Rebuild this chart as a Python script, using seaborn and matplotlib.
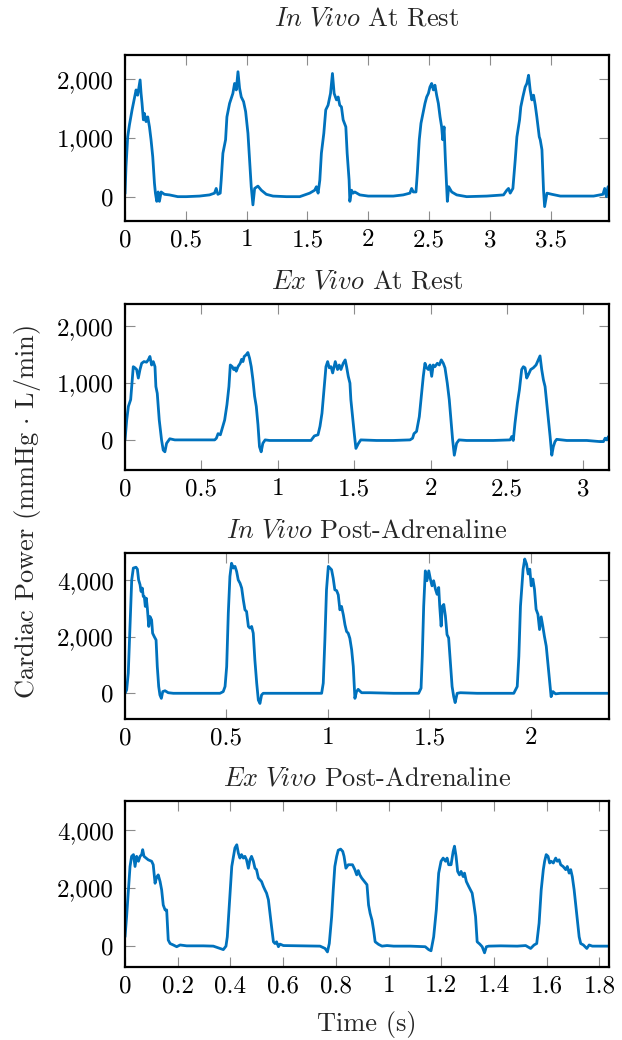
# Cardiac power traces, four panels
import numpy as np
from matplotlib import pyplot as plt
from matplotlib.ticker import FuncFormatter
import seaborn as sns

# Plot settings
sns.set_style("ticks")
plt.rc("font", family="serif", size=18)
plt.rcParams["font.serif"] = ["cmr10", "DejaVu Serif"]
plt.rc("mathtext", fontset="cm")
plt.rc("axes", linewidth=1.6, edgecolor="black", titlesize=19, labelsize=19, unicode_minus=False)
plt.rc("xtick", top=True, direction="in", color="#8c8c8c", labelcolor="black", labelsize=18)
plt.rc("ytick", right=True, direction="in", color="#8c8c8c", labelcolor="black", labelsize=18)
plt.rc("xtick.major", size=7, width=0.8, pad=6)
plt.rc("ytick.major", size=7, width=0.8, pad=8)

# Data (time in s, power in mmHg*L/min)
titles = [r"$\mathit{In\ Vivo}$ At Rest", r"$\mathit{Ex\ Vivo}$ At Rest",
          r"$\mathit{In\ Vivo}$ Post-Adrenaline", r"$\mathit{Ex\ Vivo}$ Post-Adrenaline"]

t_invivo_rest = [0, 0.008, 0.022, 0.036, 0.058, 0.077, 0.091, 0.104, 0.124, 0.132,
                 0.140, 0.151, 0.159, 0.173, 0.187, 0.201, 0.214, 0.228, 0.242, 0.250,
                 0.261, 0.272, 0.283, 0.297, 0.324, 0.365, 0.434, 0.503, 0.613, 0.695,
                 0.736, 0.750, 0.764, 0.783, 0.791, 0.805, 0.827, 0.838, 0.860, 0.887,
                 0.901, 0.915, 0.929, 0.942, 0.956, 0.975, 0.992, 1.011, 1.025, 1.038,
                 1.052, 1.066, 1.093, 1.121, 1.162, 1.217, 1.327, 1.437, 1.519, 1.560,
                 1.574, 1.588, 1.602, 1.615, 1.635, 1.651, 1.670, 1.690, 1.706, 1.720,
                 1.739, 1.753, 1.766, 1.780, 1.794, 1.816, 1.827, 1.843, 1.849, 1.863,
                 1.876, 1.890, 1.931, 2.000, 2.069, 2.206, 2.288, 2.343, 2.357, 2.371,
                 2.393, 2.404, 2.420, 2.434, 2.453, 2.467, 2.481, 2.495, 2.508, 2.522,
                 2.536, 2.549, 2.563, 2.577, 2.591, 2.604, 2.613, 2.624, 2.635, 2.651,
                 2.662, 2.687, 2.728, 2.810, 2.975, 3.113, 3.140, 3.154, 3.168, 3.190,
                 3.209, 3.223, 3.245, 3.255, 3.272, 3.291, 3.305, 3.319, 3.332, 3.346,
                 3.360, 3.374, 3.387, 3.407, 3.415, 3.429, 3.442, 3.451, 3.470, 3.511,
                 3.580, 3.717, 3.854, 3.931, 3.945, 3.959, 3.973, 3.986]
p_invivo_rest = [50, 510, 1020, 1220, 1480, 1680, 1820, 1730, 1990, 1760,
                 1590, 1310, 1420, 1280, 1360, 1190, 970, 680, 230, 60,
                 -80, 80, -80, 80, 40, 30, 0, 0, 10, 30,
                 60, 140, 40, 60, 280, 740, 970, 1360, 1590, 1760,
                 1930, 1820, 2130, 1850, 1700, 1620, 1450, 1080, 620, 170,
                 -140, 140, 180, 110, 40, 10, 0, 0, 60, 110,
                 170, 60, 280, 740, 1080, 1480, 1560, 1760, 2100, 1760,
                 1650, 1700, 1560, 1530, 1310, 1190, 740, 280, -80, 110,
                 60, 80, 30, 10, 10, 10, 30, 60, 140, 80,
                 80, 400, 970, 1250, 1450, 1590, 1700, 1760, 1870, 1930,
                 1820, 1900, 1730, 1590, 1360, 1190, 970, 1190, 620, -80,
                 170, 80, 30, 0, 10, 30, 110, 140, 60, 140,
                 620, 1020, 1310, 1530, 1700, 1870, 1930, 2070, 1820, 1650,
                 1730, 1560, 1360, 1020, 970, 800, 110, -170, 60, 40,
                 10, 10, 10, 40, 140, 0, 170, 80]

t_exvivo_rest = [0, 0.011, 0.022, 0.037, 0.054, 0.065, 0.076, 0.087, 0.098, 0.109,
                 0.124, 0.141, 0.152, 0.163, 0.174, 0.185, 0.196, 0.202, 0.211, 0.224,
                 0.239, 0.250, 0.261, 0.272, 0.293, 0.326, 0.402, 0.511, 0.587, 0.598,
                 0.609, 0.624, 0.637, 0.652, 0.667, 0.680, 0.689, 0.702, 0.711, 0.720,
                 0.728, 0.739, 0.754, 0.763, 0.772, 0.780, 0.793, 0.804, 0.815, 0.826,
                 0.837, 0.848, 0.859, 0.870, 0.880, 0.891, 0.902, 0.917, 0.946, 1.054,
                 1.217, 1.239, 1.263, 1.276, 1.289, 1.304, 1.315, 1.326, 1.337, 1.348,
                 1.359, 1.376, 1.391, 1.402, 1.413, 1.428, 1.441, 1.450, 1.461, 1.472,
                 1.478, 1.489, 1.500, 1.511, 1.528, 1.543, 1.646, 1.755, 1.865, 1.882,
                 1.891, 1.908, 1.926, 1.941, 1.952, 1.963, 1.974, 1.985, 1.996, 2.007,
                 2.017, 2.028, 2.044, 2.057, 2.070, 2.083, 2.094, 2.109, 2.122, 2.133,
                 2.144, 2.155, 2.170, 2.186, 2.236, 2.410, 2.520, 2.531, 2.541, 2.552,
                 2.568, 2.581, 2.596, 2.607, 2.618, 2.629, 2.640, 2.655, 2.672, 2.690,
                 2.705, 2.716, 2.727, 2.738, 2.749, 2.760, 2.771, 2.782, 2.793, 2.803,
                 2.814, 2.825, 2.891, 3.022, 3.109, 3.131, 3.142, 3.153, 3.164]
p_exvivo_rest = [0, 350, 590, 710, 1290, 1270, 1240, 1090, 1240, 1350,
                 1380, 1370, 1410, 1470, 1320, 1380, 1290, 940, 820, 350,
                 0, -180, -210, -60, 20, 0, 0, 0, 0, 30,
                 110, 90, 210, 350, 620, 940, 1320, 1290, 1240, 1270,
                 1210, 1290, 1350, 1420, 1380, 1470, 1500, 1540, 1440, 1290,
                 1060, 770, 590, 270, -120, -210, -60, 0, -10, -10,
                 -10, 70, 90, 240, 470, 940, 1290, 1380, 1270, 1290,
                 1180, 1380, 1240, 1320, 1240, 1350, 1410, 1290, 1120, 1000,
                 710, 410, 120, -150, -60, 0, -10, -10, 0, 30,
                 110, 150, 410, 820, 1120, 1350, 1270, 1240, 1320, 1120,
                 1320, 1290, 1350, 1320, 1410, 1350, 1270, 1000, 710, 350,
                 0, -270, -60, 0, -10, -10, 0, 60, -10, 290,
                 650, 880, 1240, 1290, 1270, 1090, 1150, 1240, 1270, 1320,
                 1410, 1480, 1240, 1060, 940, 650, 350, 60, -270, -120,
                 -30, 10, -10, -10, -30, -30, 30, 0, 60]

t_invivo_adr = [0, 0.008, 0.016, 0.025, 0.033, 0.041, 0.054, 0.061, 0.067, 0.074,
                0.079, 0.085, 0.090, 0.095, 0.100, 0.105, 0.110, 0.117, 0.123, 0.131,
                0.136, 0.144, 0.153, 0.159, 0.166, 0.172, 0.179, 0.186, 0.197, 0.213,
                0.238, 0.304, 0.386, 0.468, 0.484, 0.493, 0.501, 0.509, 0.517, 0.525,
                0.534, 0.542, 0.550, 0.558, 0.567, 0.575, 0.583, 0.591, 0.599, 0.608,
                0.616, 0.624, 0.632, 0.640, 0.649, 0.657, 0.665, 0.673, 0.681, 0.714,
                0.796, 0.895, 0.969, 0.977, 0.985, 0.993, 1.002, 1.010, 1.018, 1.026,
                1.034, 1.043, 1.051, 1.059, 1.067, 1.076, 1.084, 1.092, 1.100, 1.108,
                1.117, 1.125, 1.133, 1.141, 1.149, 1.166, 1.207, 1.324, 1.406, 1.447,
                1.459, 1.465, 1.472, 1.480, 1.488, 1.497, 1.505, 1.513, 1.521, 1.530,
                1.538, 1.546, 1.551, 1.558, 1.564, 1.571, 1.579, 1.587, 1.595, 1.604,
                1.612, 1.620, 1.627, 1.637, 1.653, 1.735, 1.817, 1.916, 1.933, 1.941,
                1.949, 1.962, 1.970, 1.979, 1.987, 1.995, 2.002, 2.010, 2.018, 2.026,
                2.035, 2.043, 2.051, 2.059, 2.067, 2.076, 2.084, 2.092, 2.100, 2.109,
                2.122, 2.146, 2.229, 2.311, 2.385]
p_invivo_adr = [0, 120, 710, 2480, 4020, 4440, 4470, 4400, 4020, 3850,
                3610, 3730, 3430, 3430, 3080, 3370, 3020, 2370, 2720, 2600,
                2130, 2010, 1890, 950, 240, -60, -180, 60, 90, 20,
                0, 0, 0, 0, 60, 240, 950, 2840, 4140, 4610,
                4440, 4500, 4320, 4020, 3900, 3730, 3310, 2960, 2900, 2370,
                2310, 2370, 2130, 1180, 360, -240, -360, -60, 0, 0,
                0, 0, 0, 360, 1890, 3670, 4500, 4440, 4380, 4080,
                3670, 3640, 3490, 2960, 3080, 2780, 2430, 2190, 2130, 1950,
                1540, 950, -180, 60, 140, 20, 20, 0, 0, 0,
                180, 1310, 3090, 4340, 3990, 4340, 4050, 3810, 3990, 3690,
                3510, 3750, 3090, 2380, 3090, 3150, 2740, 2080, 1960, 1070,
                240, -120, -330, 0, 20, 0, 0, 0, 240, 1310,
                3090, 4400, 4760, 4580, 4230, 4400, 3810, 4050, 3690, 2980,
                2800, 2260, 2710, 2380, 2020, 1670, 1070, 480, -120, 60,
                -20, 0, 0, 0, 0]

t_exvivo_adr = [0, 0.006, 0.013, 0.019, 0.025, 0.032, 0.038, 0.044, 0.051, 0.057,
                0.063, 0.067, 0.072, 0.080, 0.088, 0.101, 0.107, 0.114, 0.120, 0.126,
                0.133, 0.139, 0.145, 0.152, 0.158, 0.164, 0.171, 0.183, 0.196, 0.209,
                0.234, 0.297, 0.335, 0.360, 0.373, 0.383, 0.388, 0.396, 0.405, 0.417,
                0.424, 0.430, 0.436, 0.442, 0.449, 0.455, 0.461, 0.468, 0.474, 0.480,
                0.487, 0.493, 0.499, 0.506, 0.512, 0.518, 0.525, 0.531, 0.537, 0.544,
                0.550, 0.556, 0.563, 0.569, 0.575, 0.582, 0.588, 0.601, 0.676, 0.740,
                0.759, 0.768, 0.775, 0.784, 0.790, 0.796, 0.803, 0.809, 0.818, 0.826,
                0.831, 0.838, 0.847, 0.853, 0.863, 0.872, 0.879, 0.885, 0.891, 0.898,
                0.918, 0.924, 0.930, 0.937, 0.943, 0.949, 0.962, 0.975, 0.994, 1.019,
                1.082, 1.139, 1.152, 1.161, 1.171, 1.181, 1.190, 1.199, 1.207, 1.216,
                1.222, 1.228, 1.237, 1.245, 1.250, 1.256, 1.262, 1.269, 1.275, 1.283,
                1.288, 1.295, 1.304, 1.317, 1.323, 1.330, 1.336, 1.346, 1.355, 1.364,
                1.371, 1.380, 1.425, 1.488, 1.520, 1.539, 1.552, 1.562, 1.571, 1.579,
                1.587, 1.592, 1.598, 1.605, 1.611, 1.617, 1.625, 1.634, 1.640, 1.647,
                1.653, 1.662, 1.672, 1.678, 1.685, 1.691, 1.697, 1.704, 1.710, 1.716,
                1.723, 1.729, 1.739, 1.752, 1.761, 1.773, 1.805, 1.837]
p_exvivo_adr = [320, 1020, 1940, 2750, 3100, 3160, 2750, 3100, 2930, 3100,
                3160, 3330, 3100, 3040, 2980, 2930, 2810, 2170, 2380, 2460,
                2230, 1940, 1420, 1250, 1250, 210, 90, 40, -20, 40,
                10, 10, 0, -80, -120, 0, 320, 1480, 2750, 3390,
                3500, 3210, 3040, 3160, 3040, 3100, 2980, 2690, 2980, 3100,
                2930, 2690, 2640, 2350, 2290, 2230, 2060, 1940, 1830, 1600,
                1130, 670, 150, 90, 150, -20, 70, 20, 10, 0,
                -80, -200, 90, 1020, 1940, 2750, 3100, 3310, 3350, 3270,
                3100, 2690, 2810, 2810, 2810, 2640, 2460, 2610, 2460, 2350,
                2120, 1420, 1130, 900, 560, 150, 60, 0, 20, 0,
                0, -20, -120, -160, 320, 1250, 2520, 2930, 3040, 2930,
                3040, 2810, 2810, 3270, 3450, 3100, 2580, 2460, 2580, 2400,
                2520, 2230, 2060, 1830, 1480, 1020, 150, 70, -20, -230,
                -20, 0, 10, 0, 20, -80, 40, 90, 790, 1940,
                2640, 2930, 3160, 3100, 2870, 2930, 2870, 3040, 2930, 2980,
                2810, 2750, 2640, 2750, 2520, 2640, 2400, 1940, 1420, 900,
                320, 90, 40, -80, 40, 0, 0, 0]

times = [t_invivo_rest, t_exvivo_rest, t_invivo_adr, t_exvivo_adr]
powers = [p_invivo_rest, p_exvivo_rest, p_invivo_adr, p_exvivo_adr]
xlims = [(0, 3.98), (0, 3.167), (0, 2.385), (0, 1.836)]
ylims = [(-415, 2415), (-530, 2395), (-910, 4975), (-720, 5010)]
xticks = [np.arange(0, 3.6, 0.5), np.arange(0, 3.1, 0.5), np.arange(0, 2.1, 0.5), np.arange(0, 1.81, 0.2)]
yticks = [[0, 1000, 2000], [0, 1000, 2000], [0, 2000, 4000], [0, 2000, 4000]]
title_pads = [21, 11, 11, 11]

# Figure with four panels
fig = plt.figure(figsize=(6.22, 10.40), dpi=100)
bottoms = [0.7875, 0.5481, 0.3087, 0.0702]

for i in range(4):
    ax = fig.add_axes([0.201, bottoms[i], 0.778, 0.1596])
    sns.lineplot(x=times[i], y=powers[i], ax=ax, color="#0072BD", linewidth=2.0, estimator=None)
    ax.set_xlim(xlims[i])
    ax.set_ylim(ylims[i])
    ax.set_xticks(xticks[i])
    ax.set_yticks(yticks[i])
    ax.xaxis.set_major_formatter(FuncFormatter(lambda v, p: f"{round(v, 2):g}"))
    ax.yaxis.set_major_formatter(FuncFormatter(lambda v, p: f"{v:,.0f}"))
    ax.set_title(titles[i], pad=title_pads[i])
    for s in ax.spines.values():
        s.set_visible(True)

fig.text(0.045, 1 - 512 / 1040, r"Cardiac Power (mmHg$\,\cdot\,$L/min)", rotation=90,
         ha="center", va="center", fontsize=19)
fig.text(0.590, 1 - 1025 / 1040, "Time (s)", ha="center", va="center", fontsize=19)

fig.savefig("out.png", dpi=100)
